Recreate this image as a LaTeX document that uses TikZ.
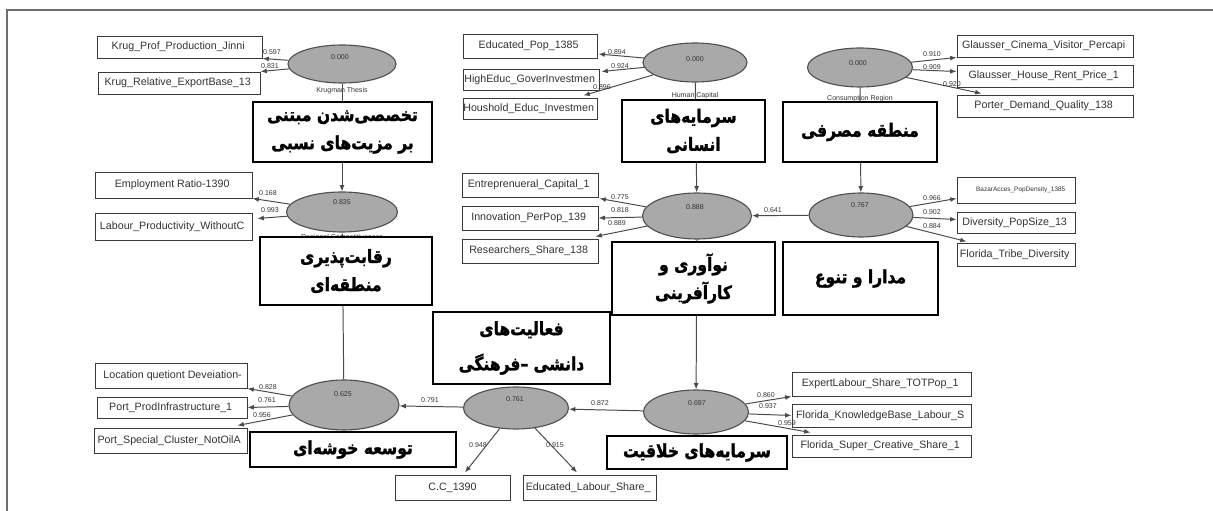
\documentclass[tikz,border=0pt]{standalone}
\usepackage{fontspec}
\setmainfont{Liberation Sans}
\newfontfamily\fafont[Script=Arabic, FakeStretch=0.85, FakeBold=1.5]{DejaVu Sans}
\TeXXeTstate=1
\usepackage{tikz}
\usetikzlibrary{shapes.geometric,arrows.meta,calc}
\definecolor{outer}{HTML}{6E6E6E}
\definecolor{lvfill}{HTML}{A9A9A9}
\definecolor{lvdraw}{HTML}{505050}
\definecolor{boxdraw}{HTML}{3A3A3A}
\definecolor{linkc}{HTML}{4A4A4A}
\definecolor{wtc}{HTML}{333333}
\newdimen\pxu \pxu=0.025cm
\tikzset{
  outerline/.style={draw=outer, line width=1pt},
  latent/.style={ellipse, draw=lvdraw, line width=0.8pt, fill=lvfill, inner sep=0pt},
  val/.style={font=\fontsize{5}{6}\selectfont, text=wtc, inner sep=0pt},
  wt/.style={font=\fontsize{5}{6}\selectfont, text=wtc, inner sep=0pt},
  indtext/.style={font=\fontsize{7.6}{9}\selectfont, text=black!80, inner sep=0pt},
  ind/.style={draw=boxdraw, line width=0.7pt, fill=white, inner sep=0pt},
  indR/.style={ind, path picture={\node[indtext, anchor=east] at ([xshift=-0.6pt]path picture bounding box.east) {#1};}},
  indL/.style={ind, path picture={\node[indtext, anchor=west] at ([xshift=0.8pt]path picture bounding box.west) {#1};}},
  indC/.style={ind, path picture={\node[indtext] at (path picture bounding box.center) {#1};}},
  fabox/.style={draw=black, line width=0.9pt, fill=white, align=center, inner sep=0pt,
    font=\fafont\bfseries\fontsize{13}{20}\selectfont},
  link/.style={draw=linkc, line width=0.7pt},
  arr/.style={link, -{Latex[length=4.5pt,width=3.5pt]}}
}
\begin{document}
\begin{tikzpicture}[x=0.025cm, y=-0.025cm]
  \useasboundingbox (0,0) rectangle (1213,511);
  \draw[outerline] (7,511) -- (7,10) -- (1213,10);

  % latent variables
  \node[latent, minimum width=108\pxu, minimum height=38\pxu] (krug) at (342,64) {};
  \node[latent, minimum width=104\pxu, minimum height=39\pxu] (human) at (695,62.5) {};
  \node[latent, minimum width=105\pxu, minimum height=39\pxu] (cons) at (860,67.5) {};
  \node[latent, minimum width=111\pxu, minimum height=40\pxu] (regc) at (342,212) {};
  \node[latent, minimum width=109\pxu, minimum height=46\pxu] (innov) at (697,216) {};
  \node[latent, minimum width=104\pxu, minimum height=44\pxu] (divers) at (861,215) {};
  \node[latent, minimum width=110\pxu, minimum height=50\pxu] (clust) at (344,405) {};
  \node[latent, minimum width=105\pxu, minimum height=42\pxu] (know) at (516,408) {};
  \node[latent, minimum width=105\pxu, minimum height=44\pxu] (creat) at (696,412) {};

  \node[val] (krugv) at (340,57) {0.000};
  \node[val] (humanv) at (695,59) {0.000};
  \node[val] (consv) at (858,63) {0.000};
  \node[val] (regcv) at (342,202) {0.835};
  \node[val] (innovv) at (695,207) {0.888};
  \node[val] (diversv) at (860,205) {0.767};
  \node[val] (clustv) at (343,394) {0.625};
  \node[val] (knowv) at (515,399) {0.761};
  \node[val] (creatv) at (697,403) {0.697};

  % indicators
  \node[indR={Krug\_Prof\_Production\_Jinni}, minimum width=165\pxu, minimum height=22\pxu] (kp) at (179.5,47) {};
  \node[indR={Krug\_Relative\_ExportBase\_13}, minimum width=162\pxu, minimum height=22\pxu] (kr) at (179,83) {};
  \node[indR={Educated\_Pop\_1385}, minimum width=134\pxu, minimum height=24\pxu] (ep) at (530,46) {};
  \node[indR={HighEduc\_GoverInvestmen}, minimum width=136\pxu, minimum height=21\pxu] (hg) at (531,79.5) {};
  \node[indR={Houshold\_Educ\_Investmen}, minimum width=134\pxu, minimum height=21\pxu] (hh) at (530,108.5) {};
  \node[indR={Glausser\_Cinema\_Visitor\_Percapi}, minimum width=176\pxu, minimum height=22\pxu] (gc) at (1045,46) {};
  \node[indR={Glausser\_House\_Rent\_Price\_1}, minimum width=176\pxu, minimum height=22\pxu] (gh) at (1045,76) {};
  \node[indR={Porter\_Demand\_Quality\_138}, minimum width=176\pxu, minimum height=22\pxu] (pd) at (1045,106) {};
  \node[indR={Employment Ratio-1390}, minimum width=157\pxu, minimum height=26\pxu] (er) at (173.5,185) {};
  \node[indR={Labour\_Productivity\_WithoutC}, minimum width=157\pxu, minimum height=27\pxu] (lp) at (173.5,226.5) {};
  \node[indR={Entreprenueral\_Capital\_1}, minimum width=136\pxu, minimum height=24\pxu] (ec) at (530,185) {};
  \node[indR={Innovation\_PerPop\_139}, minimum width=136\pxu, minimum height=24\pxu] (ip) at (530,218) {};
  \node[indR={Researchers\_Share\_138}, minimum width=136\pxu, minimum height=24\pxu] (rs) at (530,251) {};
  \node[ind, minimum width=118\pxu, minimum height=26\pxu,
    path picture={\node[indtext, font=\fontsize{4.6}{5}\selectfont, anchor=west] at ([xshift=3pt]path picture bounding box.west) {BazarAcces\_PopDensity\_1385};}] (ba) at (1016,190) {};
  \node[indR={Diversity\_PopSize\_13}, minimum width=118\pxu, minimum height=21\pxu] (dp) at (1016,222.5) {};
  \node[indR={Florida\_Tribe\_Diversity}, minimum width=118\pxu, minimum height=23\pxu] (ft) at (1016,254.5) {};
  \node[indL={Location quetiont Deveiation-}, minimum width=152\pxu, minimum height=25\pxu] (lq) at (171,375.5) {};
  \node[indR={Port\_ProdInfrastructure\_1}, minimum width=150\pxu, minimum height=21\pxu] (pp) at (172,407.5) {};
  \node[indR={Port\_Special\_Cluster\_NotOilA}, minimum width=153\pxu, minimum height=25\pxu] (ps) at (170.5,440.5) {};
  \node[indC={C.C\_1390}, minimum width=115\pxu, minimum height=25\pxu] (ccb) at (452.5,487.5) {};
  \node[indR={Educated\_Labour\_Share\_}, minimum width=133\pxu, minimum height=25\pxu] (el) at (589.5,487.5) {};
  \node[indR={ExpertLabour\_Share\_TOTPop\_1}, minimum width=179\pxu, minimum height=24\pxu] (xl) at (881.5,384) {};
  \node[indR={Florida\_KnowledgeBase\_Labour\_S}, minimum width=179\pxu, minimum height=23\pxu] (fk) at (881.5,415.5) {};
  \node[indR={Florida\_Super\_Creative\_Share\_1}, minimum width=179\pxu, minimum height=22\pxu] (fs) at (881.5,446) {};

  % outer loadings
  \draw[arr] (krug) -- (kp.south east);
  \draw[arr] (krug) -- (kr.north east);
  \draw[arr] (human) -- ($(ep.east)+(1,8)$);
  \draw[arr] (human) -- ($(hg.north east)+(2,3)$);
  \draw[arr] (human) -- ($(hh.north east)+(-14,-2)$);
  \draw[arr] (cons) -- (gc.south west);
  \draw[arr] (cons) -- ($(gh.north west)+(0,7)$);
  \draw[arr] (cons) -- ($(pd.north west)+(25,-1)$);
  \draw[arr] (regc) -- (er.south east);
  \draw[arr] (regc) -- ($(lp.north east)+(5,6)$);
  \draw[arr] (innov) -- ($(ec.south east)+(1,1)$);
  \draw[arr] (innov) -- (ip.east);
  \draw[arr] (innov) -- ($(rs.north east)+(-3,-2)$);
  \draw[arr] (divers) -- ($(ba.south west)+(0,-5)$);
  \draw[arr] (divers) -- ($(dp.north west)+(0,8)$);
  \draw[arr] (divers) -- ($(ft.north west)+(10,-1)$);
  \draw[arr] (clust) -- (lq.south east);
  \draw[arr] (clust) -- (pp.east);
  \draw[arr] (clust) -- ($(ps.north east)+(-10,-2)$);
  \draw[arr] (know) -- ($(ccb.north)+(12.5,-2)$);
  \draw[arr] (know) -- ($(el.north)+(-12.5,-2)$);
  \draw[arr] (creat) -- (xl.south west);
  \draw[arr] (creat) -- (fk.west);
  \draw[arr] (creat) -- ($(fs.north west)+(19,-2)$);

  % inner paths
  \draw[arr] (krug) -- (regc);
  \draw[arr] (human) -- (innov);
  \draw[arr] (cons) -- (divers);
  \draw[arr] (divers) -- (innov);
  \draw[arr] (innov) -- (creat);
  \draw[arr] (creat) -- (know);
  \draw[arr] (know) -- (clust);
  \draw[arr] (clust) -- (regc);

  % weights
  \node[wt] (w1) at (272,52) {0.597};
  \node[wt] (w2) at (270,66) {0.831};
  \node[wt] (w3) at (617,52) {0.894};
  \node[wt] (w4) at (620,66) {0.924};
  \node[wt] (w5) at (602,87) {0.896};
  \node[wt] (w6) at (932,54) {0.910};
  \node[wt] (w7) at (932,67) {0.909};
  \node[wt] (w8) at (952,84) {0.920};
  \node[wt] (w9) at (268,193) {0.168};
  \node[wt] (w10) at (270,210) {0.993};
  \node[wt] (w11) at (620,197) {0.775};
  \node[wt] (w12) at (620,210) {0.818};
  \node[wt] (w13) at (617,223) {0.889};
  \node[wt] (w14) at (773,210) {0.641};
  \node[wt] (w15) at (932,198) {0.966};
  \node[wt] (w16) at (932,212) {0.902};
  \node[wt] (w17) at (932,226) {0.884};
  \node[wt] (w18) at (268,387) {0.828};
  \node[wt] (w19) at (267,400) {0.761};
  \node[wt] (w20) at (262,415) {0.956};
  \node[wt] (w21) at (430,400) {0.791};
  \node[wt] (w22) at (478,445) {0.948};
  \node[wt] (w23) at (555,445) {0.915};
  \node[wt] (w24) at (600,403) {0.872};
  \node[wt] (w25) at (766,395) {0.860};
  \node[wt] (w26) at (768,406) {0.937};
  \node[wt] (w27) at (787,423) {0.959};

  % construct names
  \node[wt] (krugn) at (342,91) {Krugman Thesis};
  \node[wt] (humann) at (695,96) {Human Capital};
  \node[wt] (consn) at (860,99) {Consumption Region};
  \node[wt] (regcn) at (342,238) {Regional Competitiveness};

  % persian captions
  \node[fabox, minimum width=179\pxu, minimum height=60\pxu] (fa1) at (342.5,132)
    {\beginR تخصصی^^^^200cشدن مبتنی\endR\\\beginR بر مزیت^^^^200cهای نسبی\endR};
  \node[fabox, minimum width=172\pxu, minimum height=68\pxu] (fa2) at (346,271)
    {\beginR رقابت^^^^200cپذیری\endR\\\beginR منطقه^^^^200cای\endR};
  \node[fabox, minimum width=143\pxu, minimum height=62\pxu] (fa3) at (693.5,131)
    {\beginR سرمایه^^^^200cهای\endR\\\beginR انسانی\endR};
  \node[fabox, minimum width=154\pxu, minimum height=60\pxu] (fa4) at (860,132)
    {\beginR منطقه مصرفی\endR};
  \node[fabox, minimum width=163\pxu, minimum height=73\pxu] (fa5) at (693.5,278.5)
    {\beginR نوآوری و\endR\\\beginR کارآفرینی\endR};
  \node[fabox, minimum width=177\pxu, minimum height=72\pxu] (fa6) at (521.5,348)
    {\beginR فعالیت^^^^200cهای\endR\\[5pt]\beginR دانشی –فرهنگی\endR};
  \node[fabox, minimum width=155\pxu, minimum height=73\pxu] (fa7) at (860.5,278.5)
    {\beginR مدارا و تنوع\endR};
  \node[fabox, minimum width=206\pxu, minimum height=35\pxu] (fa8) at (353,449.5)
    {\beginR توسعه خوشه^^^^200cای\endR};
  \node[fabox, minimum width=180\pxu, minimum height=33\pxu] (fa9) at (697,452.5)
    {\beginR سرمایه^^^^200cهای خلاقیت\endR};
\end{tikzpicture}
\end{document}
